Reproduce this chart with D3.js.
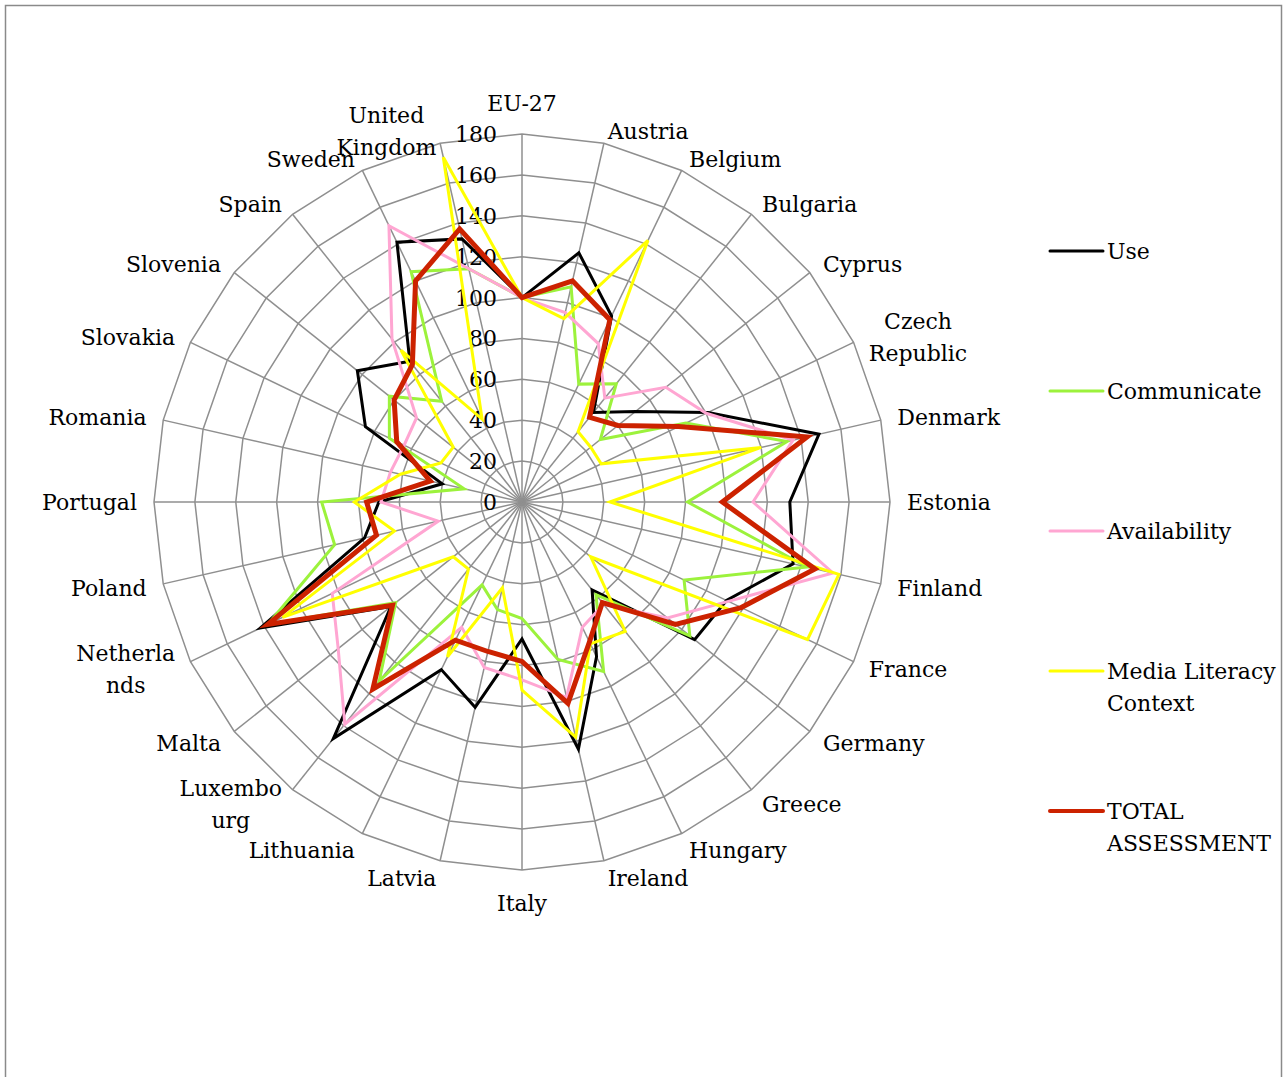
<!DOCTYPE html>
<html>
<head>
<meta charset="utf-8">
<script src="https://cdn.jsdelivr.net/npm/d3@7"></script>
<style>
  body { margin: 0; background: #fff; }
  svg { display: block; }
  text { font-family: "DejaVu Serif", serif; font-size: 22px; fill: #000; }
</style>
</head>
<body>
<svg id="chart" width="1284" height="1077"></svg>
<script>
// Countries around the radar, clockwise from the top
const categories = ["EU-27", "Austria", "Belgium", "Bulgaria", "Cyprus", "Czech Republic", "Denmark",
  "Estonia", "Finland", "France", "Germany", "Greece", "Hungary", "Ireland", "Italy", "Latvia",
  "Lithuania", "Luxembourg", "Malta", "Netherlands", "Poland", "Portugal", "Romania", "Slovakia",
  "Slovenia", "Spain", "Sweden", "United Kingdom"];

// How each category label wraps onto lines
const categoryLines = [["EU-27"], ["Austria"], ["Belgium"], ["Bulgaria"], ["Cyprus"], ["Czech", "Republic"],
  ["Denmark"], ["Estonia"], ["Finland"], ["France"], ["Germany"], ["Greece"], ["Hungary"], ["Ireland"],
  ["Italy"], ["Latvia"], ["Lithuania"], ["Luxembo", "urg"], ["Malta"], ["Netherla", "nds"], ["Poland"],
  ["Portugal"], ["Romania"], ["Slovakia"], ["Slovenia"], ["Spain"], ["Sweden"], ["United", "Kingdom"]];

// Index values (EU-27 = 100)
const useValues          = [100, 125, 101, 56, 71, 101, 149, 131, 136, 111, 108, 55, 84, 124, 67, 103, 91, 148, 82, 142, 79, 70, 40, 85, 103, 88, 141, 132];
const communicateValues  = [100, 108, 64, 74, 49, 89, 133, 81, 143, 88, 105, 58, 92, 79, 57, 54, 45, 112, 79, 138, 94, 98, 29, 72, 83, 63, 125, 117];
const availabilityValues = [100, 95, 86, 65, 90, 100, 136, 113, 156, 112, 91, 64, 68, 98, 87, 83, 68, 139, 115, 103, 42, 69, 66, 64, 66, 102, 150, 117];
const mediaContextValues = [100, 92, 142, 44, 43, 43, 120, 43, 159, 155, 43, 81, 77, 118, 92, 43, 84, 42, 43, 130, 64, 82, 61, 44, 43, 95, 45, 173];
const totalValues        = [100, 111, 99, 53, 60, 85, 143, 98, 147, 119, 96, 63, 76, 101, 78, 75, 75, 117, 81, 138, 73, 76, 46, 68, 80, 86, 120, 137];

const seriesNames = ["Use", "Communicate", "Availability", "Media Literacy Context", "TOTAL ASSESSMENT"];
const legendLines = [["Use"], ["Communicate"], ["Availability"], ["Media Literacy", "Context"], ["TOTAL", "ASSESSMENT"]];
const seriesValues = [useValues, communicateValues, availabilityValues, mediaContextValues, totalValues];
const seriesColors = ["#000000", "#9cf23c", "#ffa6d2", "#ffff00", "#cc2200"];
const seriesWidths = [3, 3, 3, 3, 5];

const tickValues = [0, 20, 40, 60, 80, 100, 120, 140, 160, 180];

const svg = d3.select("#chart");
const cx = 522, cy = 502, R = 368;
const gridColor = "#8f8f8f";

// outer frame of the chart area
svg.append("rect")
  .attr("x", 5.5).attr("y", 5.5).attr("width", 1276).attr("height", 1100)
  .attr("fill", "none").attr("stroke", "#8a8a8a").attr("stroke-width", 1.5);

const rScale = d3.scaleLinear().domain([0, 180]).range([0, R]);
const angle = d3.scaleLinear().domain([0, categories.length]).range([0, 2 * Math.PI]);

const g = svg.append("g").attr("transform", `translate(${cx},${cy})`);

// concentric grid polygons
const ringLine = d3.lineRadial().curve(d3.curveLinearClosed);
g.append("g").selectAll("path")
  .data(tickValues.slice(1))
  .join("path")
  .attr("d", v => ringLine(categories.map((c, i) => [angle(i), rScale(v)])))
  .attr("fill", "none").attr("stroke", gridColor).attr("stroke-width", 1.5);

// spokes
g.append("g").selectAll("line")
  .data(categories)
  .join("line")
  .attr("x1", 0).attr("y1", 0)
  .attr("x2", (c, i) => rScale(180) * Math.sin(angle(i)))
  .attr("y2", (c, i) => -rScale(180) * Math.cos(angle(i)))
  .attr("stroke", gridColor).attr("stroke-width", 1.5);

// value axis labels along the top spoke
g.append("g").selectAll("text")
  .data(tickValues)
  .join("text")
  .attr("x", -25)
  .attr("y", v => -rScale(v) + 8)
  .attr("text-anchor", "end")
  .text(v => v);

// series lines
const seriesLine = d3.lineRadial()
  .angle((v, i) => angle(i))
  .radius(v => rScale(v))
  .curve(d3.curveLinearClosed);

g.append("g").selectAll("path")
  .data(seriesValues)
  .join("path")
  .attr("d", vals => seriesLine(vals))
  .attr("fill", "none")
  .attr("stroke", (v, k) => seriesColors[k])
  .attr("stroke-width", (v, k) => seriesWidths[k])
  .attr("stroke-linejoin", "miter")
  .attr("stroke-miterlimit", 4);

// category labels outside the outer ring
const labelGroup = g.append("g");
categories.forEach((c, i) => {
  const a = angle(i);
  const s = Math.sin(a), co = Math.cos(a);
  const ex = rScale(180) * s, ey = -rScale(180) * co;
  const lines = categoryLines[i];
  const lineGap = 32;
  let centerY, x, anchor;
  if (Math.abs(s) < 1e-6) {
    anchor = "middle";
    x = 0;
    centerY = ey - co * (co > 0 ? 31 : 33);
  } else {
    centerY = ey - co * (co > 0 ? 13 : 18);
    x = (rScale(180) + 17) * s;
    anchor = s > 0 ? "start" : "end";
  }
  const t = labelGroup.append("text").attr("text-anchor", "middle");
  lines.forEach((ln, k) => {
    t.append("tspan")
      .attr("y", centerY + (k - (lines.length - 1) / 2) * lineGap + 8)
      .text(ln);
  });
  // measure the widest line to place the block beside the spoke end
  let maxW = 0;
  t.selectAll("tspan").each(function () { maxW = Math.max(maxW, this.getComputedTextLength()); });
  const midX = anchor === "middle" ? x : (anchor === "start" ? x + maxW / 2 : x - maxW / 2);
  t.selectAll("tspan").attr("x", midX);
});

// legend
const legend = svg.append("g");
const legendY = [251, 391, 531, 671, 811];
seriesNames.forEach((name, k) => {
  const y = legendY[k];
  legend.append("line")
    .attr("x1", 1050).attr("x2", 1103).attr("y1", y).attr("y2", y)
    .attr("stroke", seriesColors[k]).attr("stroke-width", k === 4 ? 4 : 3)
    .attr("stroke-linecap", "round");
  const t = legend.append("text");
  legendLines[k].forEach((ln, j) => {
    t.append("tspan").attr("x", 1107).attr("y", y + 8 + j * 32).text(ln);
  });
});
</script>
</body>
</html>
